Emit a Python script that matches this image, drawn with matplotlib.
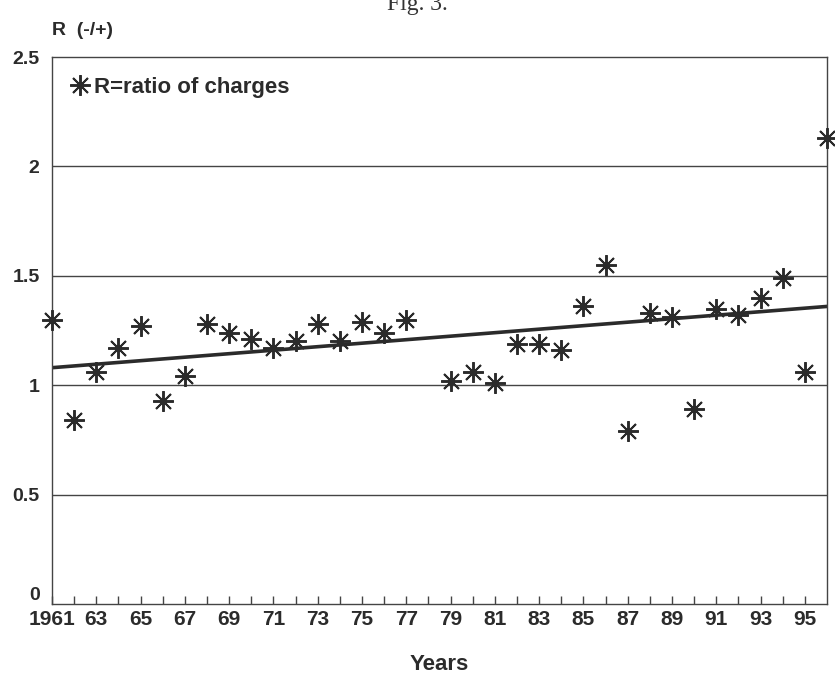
import numpy as np
import matplotlib
matplotlib.use("Agg")
import matplotlib.pyplot as plt

# Data
years = [1961, 1962, 1963, 1964, 1965, 1966, 1967, 1968, 1969, 1970,
         1971, 1972, 1973, 1974, 1975, 1976, 1977, 1979, 1980, 1981,
         1982, 1983, 1984, 1985, 1986, 1987, 1988, 1989, 1990, 1991,
         1992, 1993, 1994, 1995, 1996]
ratio = [1.30, 0.84, 1.06, 1.17, 1.27, 0.93, 1.04, 1.28, 1.24, 1.21,
         1.17, 1.20, 1.28, 1.20, 1.29, 1.24, 1.30, 1.02, 1.06, 1.01,
         1.19, 1.19, 1.16, 1.36, 1.55, 0.79, 1.33, 1.31, 0.89, 1.35,
         1.32, 1.40, 1.49, 1.06, 2.13]

# Trend line end values
trend_years = [1961, 1996]
trend_values = [1.08, 1.36]

tick_years = list(range(1962, 1996))
label_years = [1961] + list(range(1963, 1996, 2))
label_text = ["1961"] + [str(y)[2:] for y in range(1963, 1996, 2)]
y_ticks = [0, 0.5, 1, 1.5, 2, 2.5]
y_labels = ["0", "0.5", "1", "1.5", "2", "2.5"]

INK = "#2b2b2b"
FONT = "Liberation Sans"


def main():
    fig = plt.figure(figsize=(8.35, 6.82), dpi=100)
    ax = fig.add_axes([0.0623, 0.1144, 0.9281, 0.802])

    # horizontal reference lines
    for v in [0.5, 1, 1.5, 2]:
        ax.axhline(v, color="#444444", lw=1.0, zorder=1)

    # trend line
    ax.plot(trend_years, trend_values, color=INK, lw=2.6, zorder=2)

    # data points (asterisks)
    ax.plot(years, ratio, linestyle="none", marker=(8, 2, 0), ms=15,
            mew=1.4, color=INK, zorder=3, clip_on=False,
            label="R=ratio of charges")

    ax.set_xlim(1961, 1996)
    ax.set_ylim(0, 2.5)

    for s in ax.spines.values():
        s.set_color("#444444")
        s.set_linewidth(1.0)

    # x ticks: small inward ticks every year, labels at odd years
    ax.set_xticks(tick_years, minor=True)
    ax.set_xticks(label_years)
    ax.set_xticklabels(label_text, fontfamily=FONT, fontweight="bold",
                       fontsize=15, color=INK)
    ax.tick_params(axis="x", which="both", direction="in", length=6,
                   width=1, color="#444444", pad=4)

    ax.set_yticks(y_ticks)
    ax.set_yticklabels(y_labels, fontfamily=FONT, fontweight="bold",
                       fontsize=14, color=INK)
    ax.tick_params(axis="y", length=0, pad=9)
    ax.get_yticklabels()[0].set_va("bottom")

    ax.set_xlabel("Years", fontfamily=FONT, fontweight="bold",
                  fontsize=16, color=INK, labelpad=18)

    fig.text(0.062, 0.955, "R  (-/+)", fontfamily=FONT, fontweight="bold",
             fontsize=14, color=INK, ha="left", va="center")
    fig.text(0.5, 0.993, "Fig. 3.", fontfamily="Liberation Serif",
             fontsize=17, color="#333333", ha="center", va="center")

    leg = ax.legend(loc="upper left", frameon=False, handlelength=0.7,
                    handletextpad=0.3, borderaxespad=0.5,
                    prop={"family": FONT, "weight": "bold", "size": 16})
    for t in leg.get_texts():
        t.set_color(INK)

    fig.savefig("out.png", dpi=100)


if __name__ == "__main__":
    main()
